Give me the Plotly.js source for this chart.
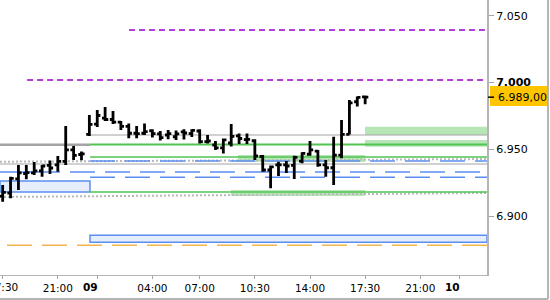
<!DOCTYPE html>
<html>
<head>
<meta charset="utf-8">
<script src="https://cdn.plot.ly/plotly-3.0.1.min.js"></script>
<style>
html,body{margin:0;padding:0;background:#fff;}
#chart{width:550px;height:300px;}
</style>
</head>
<body>
<div id="chart"></div>
<script>
// ---- OHLC data (30-minute bars, index 0 = 17:30 of previous day) ----
const open  = [6.9150,6.9173,6.9278,6.9319,6.9323,6.9338,6.9379,6.9383,6.9409,6.9495,
               6.9461,6.9611,6.9689,6.9734,6.9723,6.9704,6.9671,6.9620,6.9620,6.9639,
               6.9615,6.9607,6.9594,6.9630,6.9618,6.9637,6.9558,6.9532,6.9510,6.9547,
               6.9600,6.9573,6.9564,6.9446,6.9345,6.9383,6.9383,6.9379,6.9412,6.9463,
               6.9487,6.9383,6.9362,6.9457,6.9612,6.9856,6.9892];
const high  = [6.9233,6.9295,6.9383,6.9383,6.9405,6.9383,6.9416,6.9450,6.9674,6.9525,
               6.9484,6.9757,6.9794,6.9817,6.9787,6.9712,6.9693,6.9674,6.9693,6.9650,
               6.9637,6.9645,6.9641,6.9650,6.9650,6.9650,6.9607,6.9562,6.9581,6.9689,
               6.9618,6.9618,6.9575,6.9457,6.9379,6.9407,6.9412,6.9452,6.9478,6.9562,
               6.9495,6.9420,6.9594,6.9719,6.9869,6.9895,6.9903];
const low   = [6.9108,6.9133,6.9195,6.9275,6.9308,6.9295,6.9315,6.9332,6.9383,6.9420,
               6.9418,6.9600,6.9667,6.9712,6.9689,6.9645,6.9582,6.9582,6.9607,6.9588,
               6.9566,6.9575,6.9570,6.9573,6.9592,6.9543,6.9543,6.9495,6.9469,6.9521,
               6.9540,6.9540,6.9420,6.9332,6.9208,6.9300,6.9323,6.9278,6.9395,6.9452,
               6.9370,6.9295,6.9233,6.9433,6.9611,6.9820,6.9837];
const close = [6.9177,6.9283,6.9323,6.9326,6.9338,6.9375,6.9360,6.9409,6.9495,6.9454,
               6.9465,6.9686,6.9753,6.9723,6.9704,6.9671,6.9620,6.9618,6.9633,6.9618,
               6.9588,6.9618,6.9615,6.9622,6.9641,6.9558,6.9562,6.9510,6.9570,6.9596,
               6.9581,6.9575,6.9450,6.9345,6.9368,6.9383,6.9375,6.9439,6.9470,6.9495,
               6.9383,6.9362,6.9457,6.9612,6.9847,6.9888,6.9890];

// ---- axis ticks ----
const xTickIdx    = [0, 7, 12, 19, 25, 32, 39, 46, 53, 58];
const xTickLabels = ['','21:00','','04:00','07:00','10:30','14:00','17:30','21:00',''];
const edgeLabel   = '17:30';
const dayLabels   = ['09','10'];
const yTickVals   = [6.900, 6.950, 7.000, 7.050];
const yTickLabels = ['6.900','6.950','<b>7.000</b>','7.050'];
const lastPrice   = 6.989;
const lastPriceLabel = '6.989,00';

// ---- price levels ----
const purpleLevels = [7.0393, 7.0019];
const greenLevels  = [6.9536, 6.9442, 6.9180];
const grayLevels   = [6.9534, 6.9607, 6.9390];
const blueLevels   = [6.9412, 6.9330, 6.9290];
const orangeLevel  = 6.8781;
const dottedUpper  = [6.9407, 6.9427];
const dottedLower  = [6.9143, 6.9173];
const blueZoneTop  = [6.9263, 6.9180];
const blueZoneLow  = [6.8856, 6.8804];
const greenZones   = [[6.9457, 6.9405],[6.9195, 6.9150],[6.9669, 6.9607],[6.9570, 6.9519]];

// ---- positions (bar index units) ----
const X0 = -0.34, X1 = 61.46, XDAY = 11.08;
const x = open.map((_, i) => i);

function hl(y, xa, xb, color, width, dash, y2) {
  return {type:'line', xref:'x', yref:'y', x0:xa, x1:xb, y0:y, y1:(y2===undefined?y:y2),
          line:{color:color, width:width, dash:dash||'solid'}, layer:'below'};
}
function rect(ya, yb, xa, xb, fill, lineColor) {
  return {type:'rect', xref:'x', yref:'y', x0:xa, x1:xb, y0:ya, y1:yb,
          fillcolor:fill, line:{color:lineColor||'rgba(0,0,0,0)', width:lineColor?1.5:0}, layer:'below'};
}
const GREEN = '#52c452', GZONE = 'rgba(110,205,110,0.5)', BLUE = '#5b8ef0',
      GRAY = '#a4a4a4', DOT = '#b9b9b9', PURPLE = '#9a00cc', ORANGE = '#f4b44c';

const shapes = [
  rect(blueZoneTop[0], blueZoneTop[1], X0, XDAY, '#e6eefd', BLUE),
  rect(blueZoneLow[0], blueZoneLow[1], XDAY, X1, '#e6eefd', BLUE),
  rect(greenZones[0][0], greenZones[0][1], 29.86, 45.98, GZONE),
  rect(greenZones[1][0], greenZones[1][1], 28.97, 45.98, GZONE),
  rect(greenZones[2][0], greenZones[2][1], 45.98, X1, GZONE),
  rect(greenZones[3][0], greenZones[3][1], 45.98, X1, GZONE),
  hl(purpleLevels[0], 16.03, 61.2, PURPLE, 1.5, '6px,4px'),
  hl(purpleLevels[1], 3.1, 61.2, PURPLE, 1.5, '6px,4px'),
  hl(grayLevels[0], X0, XDAY, GRAY, 2.5),
  hl(grayLevels[1], 10.8, X1, GRAY, 1.2),
  hl(grayLevels[2], X0, X1, GRAY, 1.2),
  hl(dottedUpper[0], X0, X1, DOT, 2, '2px,2px', dottedUpper[1]),
  hl(dottedLower[0], X0, X1, DOT, 2, '2px,2px', dottedLower[1]),
  hl(greenLevels[0], XDAY, X1, GREEN, 2),
  hl(greenLevels[1], XDAY, X1, GREEN, 1.5),
  hl(greenLevels[2], XDAY, X1, GREEN, 1.5),
  hl(blueLevels[0], XDAY, X1, BLUE, 1.5, '25px,10px'),
  hl(blueLevels[1], X0, 7.27, BLUE, 1.5),
  hl(blueLevels[1], 8.54, X1, BLUE, 1.5, '25px,10px'),
  hl(blueLevels[2], XDAY, X1, BLUE, 1.5, '25px,10px'),
  hl(orangeLevel, 0.55, X1, ORANGE, 1.5, '25px,10px'),
  // last price box on the right axis
  {type:'rect', xref:'paper', yref:'y', x0:490/487, x1:548/487, y0:6.9974, y1:6.9824,
   fillcolor:'#ffc600', line:{width:0}, layer:'above'},
  {type:'line', xref:'paper', yref:'y', x0:488/487, x1:494/487, y0:lastPrice, y1:lastPrice,
   line:{color:'#000', width:1.5}, layer:'above'},
  // outer window frame
  {type:'line', xref:'paper', yref:'paper', x0:548/487, x1:548/487, y0:-24/275, y1:1,
   line:{color:'#b4b4b4', width:2}, layer:'above'},
  {type:'line', xref:'paper', yref:'paper', x0:0, x1:548/487, y0:-24/275, y1:-24/275,
   line:{color:'#b4b4b4', width:2}, layer:'above'}
];

const FONT = 'DejaVu Sans, Verdana, sans-serif';
const annotations = [
  {xref:'paper', yref:'y', x:496/487, y:lastPrice, xanchor:'left', yanchor:'middle',
   text:lastPriceLabel, showarrow:false, font:{family:FONT, size:11, color:'#000'}},
  {xref:'x', yref:'paper', x:xTickIdx[0], y:-12/275, xanchor:'center', yanchor:'middle',
   text:edgeLabel, showarrow:false, font:{family:FONT, size:10.5, color:'#000'}},
  {xref:'x', yref:'paper', x:11.14, y:-12/275, xanchor:'center', yanchor:'middle',
   text:'<b>'+dayLabels[0]+'</b>', showarrow:false, font:{family:FONT, size:10.5, color:'#000'}},
  {xref:'x', yref:'paper', x:57.02, y:-12/275, xanchor:'center', yanchor:'middle',
   text:'<b>'+dayLabels[1]+'</b>', showarrow:false, font:{family:FONT, size:10.5, color:'#000'}}
];

const trace = {
  type:'ohlc', x:x, open:open, high:high, low:low, close:close,
  increasing:{line:{color:'#000', width:2.8}},
  decreasing:{line:{color:'#000', width:2.8}},
  tickwidth:0.4, hoverinfo:'skip'
};

const layout = {
  width:550, height:300,
  margin:{l:0, r:63, t:0, b:25, pad:0},
  paper_bgcolor:'#fff', plot_bgcolor:'#fff',
  showlegend:false,
  xaxis:{range:[X0, X1], tickmode:'array', tickvals:xTickIdx, ticktext:xTickLabels,
         ticks:'outside', ticklen:3, tickcolor:'#a4a4a4', tickwidth:1,
         showgrid:false, zeroline:false, showline:true, linecolor:'#b4b4b4', linewidth:1,
         rangeslider:{visible:false}, fixedrange:true,
         tickfont:{family:FONT, size:10.5, color:'#000'}},
  yaxis:{side:'right', range:[6.85591, 7.06175], tickmode:'array', tickvals:yTickVals,
         ticktext:yTickLabels, ticks:'outside', ticklen:5, tickcolor:'#a4a4a4', tickwidth:1,
         showgrid:false, zeroline:false, showline:true, linecolor:'#b4b4b4', linewidth:2,
         fixedrange:true, tickfont:{family:FONT, size:11, color:'#000'}},
  shapes:shapes,
  annotations:annotations
};

Plotly.newPlot('chart', [trace], layout, {displayModeBar:false, staticPlot:true});
</script>
</body>
</html>
